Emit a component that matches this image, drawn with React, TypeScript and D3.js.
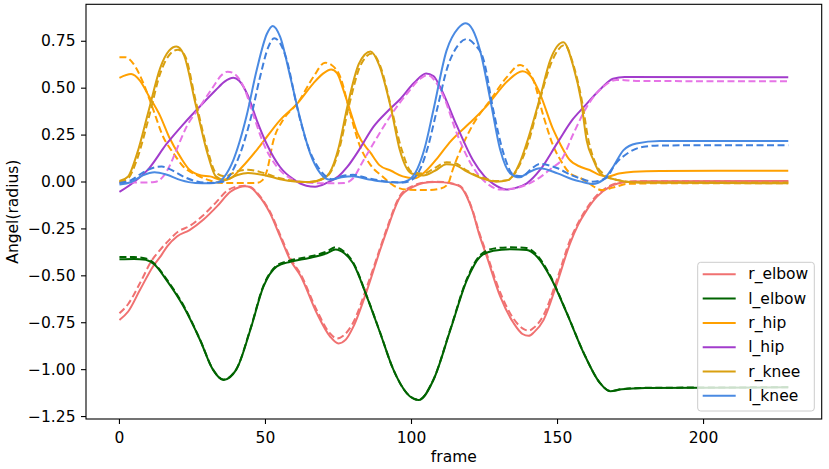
import * as d3 from 'd3';

type Pt = [number, number];

// legend / series order
const labels = ['r_elbow', 'l_elbow', 'r_hip', 'l_hip', 'r_knee', 'l_knee'];
const solidColors = ['#f07171', '#006400', '#ffa000', '#a23ccc', '#d9a010', '#4a8ae2'];
const dashColors = ['#f07171', '#006400', '#ffa000', '#e674e6', '#d9a010', '#3f7fdc'];

const xTicks = [0, 50, 100, 150, 200];
const yTicks = [-1.25, -1.0, -0.75, -0.5, -0.25, 0, 0.25, 0.5, 0.75];

const rElbow: Pt[] = [[0,-0.735],[3,-0.69],[7,-0.576],[11.5,-0.45],[14,-0.398],[16.5,-0.34],[19.7,-0.29],[24,-0.256],[28.8,-0.2],[33.4,-0.13],[38,-0.052],[41,-0.028],[43,-0.023],[45,-0.03],[47,-0.06],[49.5,-0.11],[51.6,-0.167],[55,-0.29],[58.5,-0.416],[62,-0.5],[67.6,-0.7],[72.2,-0.825],[75,-0.86],[77.5,-0.84],[80.1,-0.771],[84.7,-0.58],[89.3,-0.36],[91.6,-0.256],[96.1,-0.08],[100.7,-0.025],[104,-0.005],[108,0.0],[111,-0.002],[114,-0.01],[116.7,-0.025],[119,-0.08],[121,-0.16],[123,-0.27],[125.8,-0.398],[130.4,-0.611],[135,-0.753],[138,-0.81],[140.1,-0.82],[142,-0.8],[145.2,-0.736],[149.8,-0.54],[154.3,-0.327],[157,-0.23],[160,-0.15],[163.5,-0.078],[168,-0.025],[173.8,0.0],[180,0.004],[229,0.005]];
const rElbowGt: Pt[] = [[0,-0.7],[3,-0.65],[7,-0.54],[11,-0.42],[14,-0.36],[17,-0.31],[20,-0.265],[24,-0.235],[28.5,-0.18],[33,-0.11],[37,-0.045],[41,-0.022],[43,-0.02],[45,-0.028],[47,-0.055],[49.5,-0.105],[51.6,-0.16],[55,-0.28],[58.5,-0.405],[62,-0.49],[67.6,-0.685],[72,-0.805],[74.5,-0.834],[77,-0.815],[80,-0.75],[84.7,-0.56],[89.3,-0.35],[91.6,-0.245],[96,-0.075],[100.5,-0.02],[104,-0.003],[108,0.002],[111,0.0],[114,-0.008],[116.7,-0.022],[119,-0.075],[121,-0.155],[123,-0.26],[125.8,-0.385],[130.4,-0.59],[135,-0.73],[138,-0.78],[140.1,-0.792],[142,-0.775],[145.2,-0.71],[149.8,-0.52],[154.3,-0.31],[157,-0.22],[160,-0.14],[163.5,-0.07],[168,-0.02],[173.8,0.002],[180,0.004],[229,0.004]];

const lElbow: Pt[] = [[0,-0.412],[5,-0.41],[9,-0.415],[12,-0.44],[16,-0.52],[22,-0.665],[27.6,-0.842],[32,-1.0],[35.6,-1.055],[40,-1.0],[44.8,-0.789],[49.3,-0.558],[53.9,-0.45],[58.5,-0.425],[65,-0.405],[71,-0.38],[74,-0.36],[77,-0.38],[80,-0.433],[84.7,-0.611],[89.3,-0.806],[93.8,-1.0],[98.4,-1.126],[102.5,-1.162],[107.5,-1.055],[113.3,-0.789],[119,-0.522],[123.5,-0.398],[128,-0.366],[134,-0.358],[139.5,-0.362],[143,-0.398],[147.5,-0.505],[153.2,-0.7],[159,-0.913],[164.6,-1.073],[168,-1.115],[172,-1.105],[180,-1.098],[229,-1.094]];
const lElbowGt: Pt[] = [[0,-0.4],[5,-0.4],[9,-0.407],[12,-0.435],[16,-0.515],[22,-0.66],[27.6,-0.84],[32,-0.998],[35.6,-1.053],[40,-0.998],[44.8,-0.785],[49.3,-0.553],[53.9,-0.445],[58.5,-0.418],[65,-0.398],[71,-0.37],[74,-0.348],[77,-0.372],[80,-0.428],[84.7,-0.608],[89.3,-0.804],[93.8,-1.0],[98.4,-1.125],[102.5,-1.16],[107.5,-1.053],[113.3,-0.785],[119,-0.515],[123.5,-0.39],[128,-0.355],[134,-0.348],[139.5,-0.352],[143,-0.39],[147.5,-0.5],[153.2,-0.698],[159,-0.912],[164.6,-1.072],[168,-1.114],[172,-1.104],[180,-1.097],[229,-1.094]];

const rHip: Pt[] = [[0,0.555],[4,0.575],[7,0.54],[10,0.46],[14,0.35],[17,0.24],[21,0.13],[24,0.065],[28,0.035],[31,0.03],[35,0.012],[38,0.02],[42,0.08],[48,0.19],[55,0.33],[61,0.42],[66.4,0.526],[69.5,0.575],[72.5,0.6],[74.5,0.58],[76.7,0.49],[79,0.38],[81.5,0.26],[86,0.155],[89,0.09],[93,0.06],[97,0.03],[101,0.02],[105,0.06],[109,0.13],[113,0.21],[121,0.33],[126,0.41],[133,0.54],[138,0.59],[141,0.56],[144,0.47],[148.5,0.28],[151,0.2],[154,0.12],[158,0.08],[161,0.064],[164.5,0.037],[167,0.028],[171,0.045],[176,0.055],[185,0.059],[229,0.06]];
const rHipGt: Pt[] = [[0,0.665],[2,0.665],[4.8,0.63],[8.2,0.526],[11.6,0.384],[15,0.24],[18.5,0.153],[22,0.08],[26.5,0.037],[31,0.008],[35,-0.005],[47,-0.005],[49,0.01],[50.5,0.06],[52.7,0.22],[56,0.33],[61,0.42],[66.4,0.56],[70.4,0.636],[72.5,0.625],[75.6,0.56],[79,0.366],[82,0.206],[86,0.09],[90,0.03],[94,-0.02],[98,-0.04],[105,-0.043],[110,-0.035],[112.5,-0.01],[114,0.06],[117.8,0.206],[121.2,0.31],[127,0.437],[132.7,0.56],[137.2,0.624],[139.5,0.6],[141.8,0.54],[145.2,0.35],[148.6,0.19],[151,0.117],[154.3,0.046],[158,0.02],[162,-0.02],[165,-0.043],[169,-0.03],[174,-0.01],[185,-0.007],[229,-0.007]];

const lHip: Pt[] = [[0,-0.053],[5,0.0],[10,0.07],[16,0.2],[22,0.31],[28,0.41],[33,0.49],[36,0.535],[39,0.555],[41,0.54],[44,0.46],[47,0.33],[50.5,0.2],[55,0.08],[59.5,0.015],[64,-0.02],[67,-0.025],[71,-0.005],[75,0.03],[78,0.08],[82,0.17],[87,0.295],[92,0.38],[96,0.44],[101,0.53],[105,0.578],[107.5,0.565],[110,0.5],[115.5,0.3],[121,0.117],[125,0.03],[128,-0.01],[132.5,-0.04],[136,-0.03],[139.5,-0.007],[144,0.064],[150,0.21],[155,0.33],[159,0.4],[165,0.5],[169,0.55],[173,0.56],[229,0.558]];
const lHipGt: Pt[] = [[0,-0.003],[8,-0.003],[12,0.0],[15,0.03],[17,0.08],[19.5,0.17],[23,0.295],[27.5,0.4],[32,0.505],[35,0.57],[37,0.588],[39,0.58],[42.5,0.508],[46,0.35],[49.3,0.206],[54,0.08],[58.5,0.02],[62,0.0],[70,-0.007],[77,-0.005],[80,0.02],[83,0.1],[87,0.206],[92.7,0.35],[98.4,0.47],[103,0.55],[105.5,0.57],[108,0.54],[111,0.455],[115.5,0.26],[121,0.08],[125.8,-0.007],[130.4,-0.04],[135,-0.035],[140,-0.01],[144,0.025],[148.5,0.08],[151,0.11],[155.5,0.26],[160,0.4],[165.7,0.508],[170.3,0.544],[178,0.538],[229,0.537]];

const rKnee: Pt[] = [[0,0.005],[3,0.03],[6,0.15],[10,0.38],[14,0.61],[17,0.7],[19.5,0.722],[22,0.68],[26,0.42],[30,0.16],[33,0.03],[36,0.01],[40,0.035],[44,0.048],[50,0.035],[55,0.015],[60,0.003],[65,0.0],[70,0.02],[72,0.05],[75,0.18],[78,0.4],[82,0.63],[86,0.695],[89,0.62],[93,0.39],[96,0.17],[100,0.045],[104,0.035],[108,0.06],[112,0.095],[115,0.09],[119,0.055],[124,0.02],[129,0.002],[133,0.01],[137,0.1],[139.5,0.21],[144,0.45],[147.5,0.65],[152,0.745],[155.5,0.61],[158,0.44],[160,0.22],[162.3,0.117],[164.6,0.046],[168,0.02],[178,-0.003],[229,-0.007]];
const rKneeGt: Pt[] = [[0,0.0],[3,0.02],[6,0.12],[10,0.34],[14,0.58],[17.5,0.685],[20,0.705],[22.5,0.67],[26,0.44],[30,0.18],[33,0.05],[36,0.03],[40,0.055],[44,0.065],[49,0.05],[55,0.02],[60,0.005],[65,0.0],[70,0.02],[72,0.045],[75,0.16],[78.5,0.4],[82.5,0.62],[86.5,0.685],[89.5,0.61],[93,0.4],[96.5,0.18],[100,0.055],[104,0.045],[108,0.075],[112,0.105],[115,0.1],[119,0.06],[124,0.025],[129,0.005],[133,0.01],[137,0.09],[140,0.21],[144,0.44],[148,0.64],[152.5,0.73],[155.5,0.62],[158.5,0.42],[160.5,0.23],[163,0.1],[166,0.04],[170,0.012],[178,-0.002],[229,-0.003]];

const lKnee: Pt[] = [[0,-0.013],[4,0.0],[8,0.035],[12,0.052],[16,0.04],[21,0.01],[26,-0.005],[31,-0.007],[34,0.0],[36,0.03],[39,0.117],[43.5,0.35],[47,0.597],[50.5,0.79],[52.5,0.832],[55,0.775],[58.5,0.56],[62,0.33],[65.3,0.153],[68.8,0.046],[72,0.012],[76,0.025],[80,0.03],[85,0.015],[90,0.002],[96,-0.003],[99,0.01],[102,0.07],[104.5,0.18],[107.5,0.384],[112,0.7],[116,0.82],[118.6,0.846],[121,0.81],[123.5,0.7],[127,0.437],[130.4,0.17],[133.8,0.046],[137,0.025],[140,0.05],[144,0.073],[150,0.046],[155,0.015],[158,0.002],[162,-0.01],[165.5,0.01],[169,0.08],[172.6,0.17],[177,0.205],[185,0.218],[229,0.219]];
const lKneeGt: Pt[] = [[0,-0.005],[4,0.01],[8,0.05],[12,0.078],[14.5,0.082],[17,0.07],[22,0.028],[26.5,0.003],[31,-0.005],[35,0.0],[37,0.02],[40,0.1],[44.8,0.33],[48,0.55],[51,0.72],[53,0.766],[55,0.74],[57.3,0.65],[60.8,0.4],[64.2,0.206],[68.7,0.064],[73,0.015],[77,0.035],[80,0.038],[85,0.02],[92,0.002],[97,-0.003],[100,0.01],[103,0.07],[105.5,0.18],[108.7,0.384],[112.5,0.62],[116,0.73],[119,0.762],[121.5,0.735],[124.7,0.65],[128,0.384],[131.5,0.153],[135,0.037],[138,0.03],[141,0.07],[144,0.096],[150,0.073],[155,0.035],[158,0.018],[162,0.002],[166.5,0.02],[170,0.1],[174,0.153],[179.5,0.188],[186,0.195],[229,0.196]];

const predSeries = [rElbow, lElbow, rHip, lHip, rKnee, lKnee];
const gtSeries = [rElbowGt, lElbowGt, rHipGt, lHipGt, rKneeGt, lKneeGt];

const W = 829;
const H = 469;
const left = 86, right = 821.7, top = 4.3, bottom = 419;
const font = 'DejaVu Sans, sans-serif';

export default function App() {
  const x = d3.scaleLinear().domain([-11.45, 240.45]).range([left, right]);
  const y = d3.scaleLinear().domain([-1.263, 0.947]).range([bottom, top]);
  const line = d3.line<Pt>()
    .x(d => x(d[0]))
    .y(d => y(d[1]))
    .curve(d3.curveMonotoneX);
  const fmt = d3.format('.2f');

  const legX = 697.7, legY = 262.3, legW = 116.6, legH = 148.7;
  const rowY = (i: number) => 274.3 + i * 24.3;

  return (
    <svg width={W} height={H} style={{ position: 'absolute', left: 0, top: 0, background: '#fff' }}
      fontFamily={font}>
      <defs>
        <clipPath id="plot">
          <rect x={left} y={top} width={right - left} height={bottom - top} />
        </clipPath>
      </defs>
      <rect x={0} y={0} width={W} height={H} fill="#fff" />

      <g clipPath="url(#plot)" fill="none" strokeLinejoin="round">
        {predSeries.map((s, i) => (
          <g key={labels[i]}>
            <path d={line(s) ?? ''} stroke={solidColors[i]} strokeWidth={2} />
            <path d={line(gtSeries[i]) ?? ''} stroke={dashColors[i]} strokeWidth={2} strokeDasharray="7,3.5" />
          </g>
        ))}
      </g>

      {/* axes frame */}
      <rect x={left} y={top} width={right - left} height={bottom - top} fill="none" stroke="#000" strokeWidth={1.1} />

      {xTicks.map(t => (
        <g key={t}>
          <line x1={x(t)} x2={x(t)} y1={bottom} y2={bottom + 5} stroke="#000" strokeWidth={1.1} />
          <text x={x(t)} y={442.5} textAnchor="middle" fontSize={15.5} fill="#000">{t}</text>
        </g>
      ))}
      {yTicks.map(t => (
        <g key={t}>
          <line x1={left - 5} x2={left} y1={y(t)} y2={y(t)} stroke="#000" strokeWidth={1.1} />
          <text x={75.5} y={y(t)} textAnchor="end" dominantBaseline="central" fontSize={15.5} fill="#000">{fmt(t)}</text>
        </g>
      ))}

      <text x={(left + right) / 2} y={462} textAnchor="middle" fontSize={15.5} fill="#000">frame</text>
      <text transform={`translate(17.5,${(top + bottom) / 2}) rotate(-90)`} textAnchor="middle" fontSize={15.5} fill="#000">Angel(radius)</text>

      {/* legend */}
      <rect x={legX} y={legY} width={legW} height={legH} rx={3} fill="#fff" fillOpacity={0.8} stroke="#cccccc" strokeWidth={1} />
      {labels.map((lab, i) => (
        <g key={lab}>
          <line x1={702.7} x2={735.7} y1={rowY(i)} y2={rowY(i)} stroke={solidColors[i]} strokeWidth={2} />
          <text x={748.3} y={rowY(i)} dominantBaseline="central" fontSize={15.5} fill="#000">{lab}</text>
        </g>
      ))}
    </svg>
  );
}
